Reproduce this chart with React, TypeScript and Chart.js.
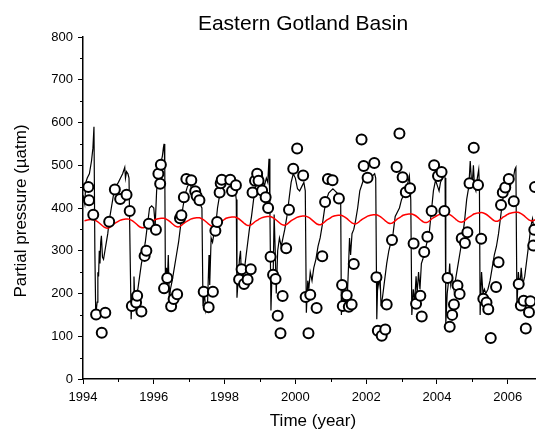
import { useEffect, useRef } from 'react';
import { Chart, registerables } from 'chart.js';
Chart.register(...registerables);

// Model pCO2 (black line): time (decimal year) and value (µatm)
const modelT = [
  1994.00, 1994.05, 1994.08, 1994.12, 1994.18, 1994.24, 1994.28, 1994.31, 1994.335, 1994.36,
  1994.40, 1994.42, 1994.44, 1994.46, 1994.48, 1994.50, 1994.52, 1994.55, 1994.58, 1994.62,
  1994.66, 1994.70, 1994.74, 1994.80, 1994.86, 1994.92, 1995.00, 1995.06, 1995.12, 1995.18,
  1995.20, 1995.23, 1995.27, 1995.30, 1995.33, 1995.36, 1995.39, 1995.42, 1995.44, 1995.47,
  1995.50, 1995.55, 1995.60, 1995.65, 1995.70, 1995.76, 1995.82, 1995.88, 1995.94, 1996.00,
  1996.04, 1996.08, 1996.12, 1996.18, 1996.24, 1996.27, 1996.29, 1996.31, 1996.33, 1996.36,
  1996.38, 1996.41, 1996.44, 1996.47, 1996.52, 1996.58, 1996.64, 1996.70, 1996.76, 1996.82,
  1996.88, 1996.95, 1997.02, 1997.08, 1997.13, 1997.18, 1997.24, 1997.30, 1997.36, 1997.39,
  1997.43, 1997.47, 1997.52, 1997.56, 1997.58, 1997.62, 1997.66, 1997.70, 1997.75, 1997.80,
  1997.86, 1997.92, 1998.00, 1998.08, 1998.16, 1998.24, 1998.30, 1998.33, 1998.35, 1998.39,
  1998.42, 1998.45, 1998.48, 1998.52, 1998.58, 1998.64, 1998.70, 1998.76, 1998.82, 1998.88,
  1998.94, 1999.00, 1999.06, 1999.12, 1999.18, 1999.22, 1999.255, 1999.28, 1999.31, 1999.34,
  1999.37, 1999.40, 1999.43, 1999.46, 1999.50, 1999.55, 1999.60, 1999.65, 1999.70, 1999.76,
  1999.82, 1999.88, 1999.94, 2000.00, 2000.06, 2000.12, 2000.18, 2000.24, 2000.28, 2000.31,
  2000.35, 2000.38, 2000.42, 2000.47, 2000.52, 2000.58, 2000.64, 2000.70, 2000.76, 2000.82,
  2000.88, 2000.94, 2001.00, 2001.06, 2001.12, 2001.18, 2001.24, 2001.28, 2001.30, 2001.34,
  2001.38, 2001.42, 2001.46, 2001.50, 2001.53, 2001.56, 2001.60, 2001.65, 2001.70, 2001.76,
  2001.82, 2001.88, 2001.94, 2002.00, 2002.06, 2002.12, 2002.18, 2002.24, 2002.27, 2002.30,
  2002.33, 2002.36, 2002.39, 2002.42, 2002.46, 2002.52, 2002.58, 2002.64, 2002.70, 2002.76,
  2002.82, 2002.88, 2002.94, 2003.00, 2003.06, 2003.12, 2003.18, 2003.22, 2003.26, 2003.29,
  2003.33, 2003.37, 2003.41, 2003.44, 2003.48, 2003.52, 2003.56, 2003.60, 2003.66, 2003.72,
  2003.78, 2003.84, 2003.90, 2003.96, 2004.02, 2004.06, 2004.10, 2004.16, 2004.20, 2004.23,
  2004.25, 2004.29, 2004.33, 2004.36, 2004.39, 2004.43, 2004.48, 2004.54, 2004.60, 2004.66,
  2004.72, 2004.78, 2004.84, 2004.90, 2004.94, 2004.97, 2005.00, 2005.03, 2005.06, 2005.10,
  2005.14, 2005.18, 2005.20, 2005.22, 2005.26, 2005.30, 2005.34, 2005.38, 2005.44, 2005.50,
  2005.56, 2005.62, 2005.68, 2005.74, 2005.80, 2005.86, 2005.92, 2005.98, 2006.04, 2006.10,
  2006.16, 2006.20, 2006.23, 2006.26, 2006.30, 2006.34, 2006.38, 2006.42, 2006.48, 2006.54,
  2006.60, 2006.66, 2006.70, 2006.74, 2006.80,
];
const modelP = [
  430, 410, 460, 470, 480, 510, 540, 590, 300, 150,
  180, 250, 240, 300, 270, 320, 335, 285, 280, 300,
  320, 340, 370, 400, 430, 450, 460, 470, 480, 495,
  470, 485, 480, 470, 300, 140, 200, 180, 240, 170,
  190, 210, 240, 270, 290, 320, 360, 400, 405, 400,
  360, 440, 470, 500, 520, 540, 550, 500, 200, 260,
  220, 290, 180, 210, 230, 260, 290, 320, 360, 400,
  430, 450, 460, 440, 420, 430, 420, 410, 400, 170,
  200, 160, 180, 290, 220, 330, 320, 340, 360, 400,
  430, 450, 470, 465, 455, 460, 440, 420, 190, 240,
  280, 300, 230, 230, 270, 310, 350, 380, 420, 450,
  470, 460, 480, 450, 470, 460, 515, 400, 160, 250,
  230, 385, 300, 200, 300, 330, 310, 330, 350, 380,
  420, 460, 480, 470, 445, 440, 450, 460, 440, 155,
  230, 210, 250, 230, 260, 280, 310, 330, 360, 395,
  420, 435, 440, 445, 440, 435, 430, 420, 150, 210,
  170, 200, 180, 260, 330, 290, 340, 350, 370, 400,
  440, 455, 470, 460, 470, 465, 475, 480, 470, 140,
  240, 220, 250, 170, 190, 230, 270, 300, 320, 340,
  380, 390, 400, 420, 430, 440, 460, 475, 420, 150,
  210, 180, 240, 200, 250, 210, 270, 280, 300, 320,
  340, 390, 440, 465, 450, 440, 460, 470, 480, 470,
  130, 200, 230, 270, 220, 240, 210, 240, 270, 300,
  330, 370, 420, 450, 510, 470, 460, 500, 450, 440,
  470, 490, 450, 150, 250, 200, 210, 200, 210, 230,
  260, 290, 310, 340, 380, 420, 440, 450, 440, 460,
  470, 490, 495, 170, 250, 210, 260, 220, 240, 280,
  320, 360, 375, 350, 340,
];

// Observations (open circles)
const obsT = [
  1994.15, 1994.17, 1994.29, 1994.37, 1994.53, 1994.63, 1994.74, 1994.90, 1995.05, 1995.23,
  1995.32, 1995.38, 1995.50, 1995.53, 1995.65, 1995.74, 1995.79, 1995.86, 1996.06, 1996.13,
  1996.18, 1996.20, 1996.29, 1996.38, 1996.49, 1996.56, 1996.66, 1996.74, 1996.78, 1996.85,
  1996.92, 1997.06, 1997.17, 1997.21, 1997.29, 1997.41, 1997.55, 1997.67, 1997.74, 1997.79,
  1997.86, 1997.89, 1997.92, 1998.16, 1998.21, 1998.32, 1998.41, 1998.48, 1998.55, 1998.65,
  1998.74, 1998.79, 1998.86, 1998.92, 1998.96, 1999.06, 1999.16, 1999.23, 1999.30, 1999.37,
  1999.44, 1999.50, 1999.58, 1999.64, 1999.74, 1999.82, 1999.94, 2000.05, 2000.22, 2000.29,
  2000.37, 2000.42, 2000.60, 2000.76, 2000.84, 2000.92, 2001.05, 2001.23, 2001.32, 2001.34,
  2001.45, 2001.51, 2001.59, 2001.65, 2001.87, 2001.93, 2002.04, 2002.23, 2002.29, 2002.33,
  2002.44, 2002.54, 2002.58, 2002.73, 2002.86, 2002.94, 2003.03, 2003.12, 2003.24, 2003.34,
  2003.41, 2003.53, 2003.57, 2003.64, 2003.73, 2003.85, 2003.92, 2004.03, 2004.13, 2004.21,
  2004.30, 2004.36, 2004.43, 2004.48, 2004.58, 2004.64, 2004.70, 2004.79, 2004.86, 2004.92,
  2005.04, 2005.16, 2005.25, 2005.31, 2005.40, 2005.45, 2005.52, 2005.67, 2005.74, 2005.81,
  2005.86, 2005.93, 2006.03, 2006.17, 2006.31, 2006.37, 2006.45, 2006.51, 2006.60, 2006.64,
  2006.72, 2006.75, 2006.77,
];
const obsP = [
  449, 418, 384, 151, 108, 155, 368, 443, 421, 431,
  393, 171, 179, 195, 158, 288, 300, 363, 349, 480,
  457, 501, 212, 236, 170, 187, 198, 376, 383, 425,
  468, 465, 439, 428, 418, 204, 168, 204, 347, 367,
  436, 458, 466, 466, 440, 453, 233, 257, 222, 233,
  257, 436, 464, 480, 464, 441, 425, 400, 286, 244,
  234, 148, 107, 194, 306, 396, 492, 539, 476, 192,
  107, 197, 166, 287, 414, 468, 465, 422, 220, 171,
  196, 169, 174, 269, 560, 498, 471, 505, 238, 113,
  101, 116, 174, 325, 496, 574, 472, 437, 446, 317,
  176, 195, 146, 297, 333, 393, 500, 475, 484, 393,
  236, 122, 150, 174, 219, 199, 329, 318, 343, 458,
  541, 454, 328, 188, 179, 163, 96, 215, 273, 407,
  436, 448, 468, 416, 222, 172, 183, 118, 156, 182,
  312, 349, 449,
];

// Atmospheric pCO2 (red line), monthly values starting Jan 1994
const atmStartYear = 1994;
const atmP = [
  370, 372, 373, 373, 370, 365, 359, 354, 353, 357, 363, 367,
  371, 373, 374, 374, 371, 366, 360, 355, 354, 358, 364, 368,
  373, 375, 376, 376, 373, 368, 362, 357, 356, 360, 366, 370,
  374, 376, 377, 377, 374, 369, 363, 358, 357, 361, 367, 371,
  376, 378, 379, 379, 376, 371, 365, 360, 359, 363, 369, 373,
  377, 379, 380, 380, 377, 372, 366, 361, 360, 364, 370, 374,
  378, 380, 381, 381, 378, 373, 367, 362, 361, 365, 371, 375,
  380, 382, 383, 383, 380, 375, 369, 364, 363, 367, 373, 377,
  381, 383, 384, 384, 381, 376, 370, 365, 364, 368, 374, 378,
  383, 385, 386, 386, 383, 378, 372, 367, 366, 370, 376, 380,
  384, 386, 387, 387, 384, 379, 373, 368, 367, 371, 377, 381,
  386, 388, 389, 389, 386, 381, 375, 370, 369, 373, 379, 383,
  387, 389, 390, 390, 387, 382, 376, 371, 370, 373,
];

const xMin = 1994;
const xMax = 2006.77;
const yMin = 0;
const yMax = 800;
const yStep = 100;
const xTickYears = [1994, 1995, 1996, 1997, 1998, 1999, 2000, 2001, 2002, 2003, 2004, 2005, 2006];

const titleText = 'Eastern Gotland Basin';
const xTitle = 'Time (year)';
const yTitle = 'Partial pressure (\u00b5atm)';
const FONT = '"Liberation Sans", Arial, sans-serif';

export default function App() {
  const ref = useRef<HTMLCanvasElement>(null);
  useEffect(() => {
    document.body.style.margin = '0';
    const canvas = ref.current!;
    const textPlugin = {
      id: 'texts',
      afterDraw(chart: any) {
        const ctx = chart.ctx;
        const xs = chart.scales.x;
        const ys = chart.scales.y;
        const area = chart.chartArea;
        ctx.save();
        ctx.strokeStyle = '#000';
        ctx.lineWidth = 1;
        // minor ticks
        for (let v = yMin + yStep / 2; v < yMax; v += yStep) {
          const py = Math.round(ys.getPixelForValue(v)) + 0.5;
          ctx.beginPath();
          ctx.moveTo(area.left - 3, py);
          ctx.lineTo(area.left, py);
          ctx.stroke();
        }
        xTickYears.forEach((yr) => {
          if (yr % 2 === 0) return;
          const px = Math.round(xs.getPixelForValue(yr)) + 0.5;
          ctx.beginPath();
          ctx.moveTo(px, area.bottom);
          ctx.lineTo(px, area.bottom + 3);
          ctx.stroke();
        });
        ctx.fillStyle = '#000';
        ctx.textAlign = 'center';
        ctx.textBaseline = 'middle';
        ctx.font = `21px ${FONT}`;
        ctx.fillText(titleText, 303, 24);
        ctx.font = `17px ${FONT}`;
        ctx.fillText(xTitle, (area.left + area.right) / 2 + 4, 421);
        ctx.translate(21, (area.top + area.bottom) / 2 + 3);
        ctx.rotate(-Math.PI / 2);
        ctx.fillText(yTitle, 0, 0);
        ctx.restore();
      },
    };

    const chart = new Chart(canvas, {
      type: 'scatter',
      data: {
        datasets: [
          {
            type: 'scatter',
            label: 'Observations',
            data: obsT.map((t, i) => ({ x: t, y: obsP[i] })),
            pointRadius: 5,
            pointBorderWidth: 2,
            pointBorderColor: '#000',
            pointBackgroundColor: '#fff',
            order: 0,
          },
          {
            type: 'line',
            label: 'Atmosphere',
            data: atmP.map((v, i) => ({ x: atmStartYear + (i + 0.5) / 12, y: v })),
            borderColor: '#ff0000',
            borderWidth: 1.5,
            pointRadius: 0,
            tension: 0.3,
            order: 1,
          },
          {
            type: 'line',
            label: 'Model',
            data: modelT.map((t, i) => ({ x: t, y: modelP[i] })),
            borderColor: '#000',
            borderWidth: 1.2,
            pointRadius: 0,
            tension: 0,
            order: 2,
          },
        ],
      },
      options: {
        responsive: false,
        animation: false,
        devicePixelRatio: 1,
        layout: { padding: { top: 37, left: 0, right: 0, bottom: 0 } },
        plugins: { legend: { display: false }, tooltip: { enabled: false }, title: { display: false } },
        scales: {
          x: {
            type: 'linear',
            min: xMin,
            max: xMax,
            afterBuildTicks: (scale: any) => {
              scale.ticks = xTickYears.map((v) => ({ value: v }));
            },
            afterFit: (scale: any) => {
              scale.height = 51;
            },
            ticks: {
              includeBounds: false,
              autoSkip: false,
              maxRotation: 0,
              padding: 6,
              color: '#000',
              font: { family: FONT, size: 13 },
              callback: (v: any) => (Number(v) % 2 === 0 ? String(v) : ''),
            },
            grid: {
              drawOnChartArea: false,
              drawTicks: true,
              tickLength: 5,
              lineWidth: 1,
              color: (c: any) => (c.tick && c.tick.value % 2 === 0 ? '#000' : 'rgba(0,0,0,0)'),
            },
            border: { display: true, color: '#000', width: 1.5 },
          },
          y: {
            type: 'linear',
            min: yMin,
            max: yMax,
            afterFit: (scale: any) => {
              scale.width = 83;
            },
            ticks: {
              stepSize: yStep,
              padding: 5,
              color: '#000',
              font: { family: FONT, size: 13 },
            },
            grid: {
              drawOnChartArea: false,
              drawTicks: true,
              tickLength: 5,
              lineWidth: 1,
              color: '#000',
            },
            border: { display: true, color: '#000', width: 1.5 },
          },
        },
      },
      plugins: [textPlugin],
    } as any);
    return () => chart.destroy();
  }, []);
  return <canvas ref={ref} width={542} height={430} style={{ display: 'block', width: 542, height: 430 }} />;
}
